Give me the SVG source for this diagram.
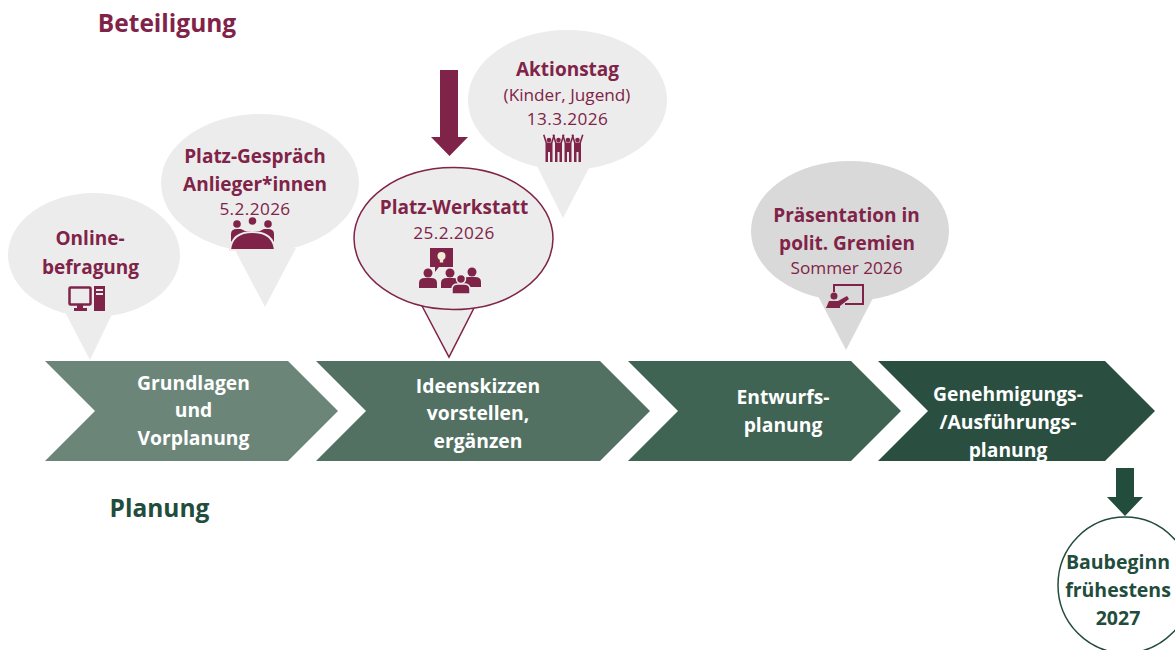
<svg xmlns="http://www.w3.org/2000/svg" width="1175" height="650" viewBox="0 0 1175 650">
<style>
text{font-family:"Open Sans","Noto Sans","Liberation Sans",sans-serif;text-anchor:middle}
.h{font-weight:700;font-size:19px;fill:#7f2348}
.s{font-size:17.200px;fill:#7f2348}
.d{letter-spacing:.4px}
.c{font-weight:700;font-size:19.300px;fill:#fff}
.g{font-weight:700;font-size:19.500px;fill:#224c3b}
.t{font-weight:700;font-size:24.500px}
.b{fill:#ececec}
.i{fill:#7f2348}
</style>
<defs>
<g id="person"><circle cx="0" cy="-9" r="4.500"/><path d="M-9,6V1Q-9,-4 -3,-4H3Q9,-4 9,1V6Z"/></g>
<g id="fig"><circle cx="0" cy="-11" r="2.300"/><path d="M-6,-16L-3.500,-8V0L-3.500,11H-1V1H1V11H3.500V0L3.500,-8L6,-16L4.500,-16.500L2,-8.500H-2L-4.500,-16.500Z"/></g>
</defs>

<text class="t" x="167" y="32" fill="#7f2348">Beteiligung</text>
<text class="t" x="159.500" y="517" fill="#224c3b">Planung</text>

<g id="connectors">
<path class="i" d="M440,70H458V137H468L449.500,156L431,137H440Z"/>
<path fill="#224c3b" d="M1116,468H1134V497H1143L1125,516L1107,497H1116Z"/>
</g>

<g id="chevron-1"><path fill="#6b8679" d="M45,361H288L338,411L288,461H45L95,411Z"/>
<text class="c" x="193.500" y="390">Grundlagen</text><text class="c" x="193.500" y="417">und</text><text class="c" x="193.500" y="445">Vorplanung</text></g>
<g id="chevron-2"><path fill="#527163" d="M316,361H600L650,411L600,461H316L366,411Z"/>
<text class="c" x="478" y="393">Ideenskizzen</text><text class="c" x="478" y="420">vorstellen,</text><text class="c" x="478" y="448">ergänzen</text></g>
<g id="chevron-3"><path fill="#3f6454" d="M628,361H851L901,411L851,461H628L678,411Z"/>
<text class="c" x="783" y="404">Entwurfs-</text><text class="c" x="783" y="432">planung</text></g>
<g id="chevron-4"><path fill="#2a4f40" d="M878,361H1105L1155,411L1105,461H878L928,411Z"/>
<text class="c" x="1008" y="401">Genehmigungs-</text><text class="c" x="1008" y="429">/Ausführungs-</text><text class="c" x="1008" y="457">planung</text></g>

<g id="bubble-online">
<ellipse class="b" cx="94" cy="255" rx="86" ry="62"/><path class="b" d="M65,312L90,360L113,312Z"/>
<text class="h" x="90" y="245">Online-</text><text class="h" x="90.500" y="274">befragung</text>
<rect x="69.500" y="287.500" width="21" height="17" rx="1" fill="none" stroke="#7f2348" stroke-width="2.500"/>
<path class="i" d="M77,304H83V308H87V311H74V308H77ZM94,286H105V311H94ZM96,289V291H103V289ZM96,293V295H103V293Z"/>
</g>

<g id="bubble-gespraech">
<ellipse class="b" cx="260" cy="183" rx="99" ry="69"/><path class="b" d="M235,250L265,307L296,248Z"/>
<text class="h" x="255" y="163">Platz-Gespräch</text><text class="h" x="255" y="191">Anlieger*innen</text>
<text class="s d" x="255" y="215">5.2.2026</text>
<g class="i"><circle cx="237" cy="224" r="3.800"/><circle cx="252.500" cy="221" r="3.800"/><circle cx="268" cy="224" r="3.800"/>
<path d="M231,243V234Q231,229 237,229H241L245,231H260L264,229H268Q274,229 274,234V243Z"/>
<path stroke="#ececec" stroke-width="2" d="M230,250Q232,232 252.500,232Q273,232 275,250Z"/></g>
</g>

<g id="bubble-aktionstag">
<ellipse class="b" cx="567.500" cy="100" rx="99.500" ry="70"/><path class="b" d="M536,164L563,218L590,166Z"/>
<text class="h" x="567.500" y="76">Aktionstag</text>
<text class="s" x="567" y="101">(Kinder, Jugend)</text><text class="s d" x="567.500" y="125">13.3.2026</text>
<g class="i"><use href="#fig" x="549" y="151"/><use href="#fig" x="558.500" y="151"/><use href="#fig" x="568" y="151"/><use href="#fig" x="577.500" y="151"/></g>
</g>

<g id="bubble-werkstatt">
<path class="b" stroke="#7f2348" stroke-width="1.500" d="M421,304L449,357L476,304Z"/>
<ellipse class="b" stroke="#7f2348" stroke-width="1.500" cx="453.500" cy="238.500" rx="99.500" ry="71"/>
<text class="h" x="454" y="214">Platz-Werkstatt</text><text class="s d" x="454" y="239">25.2.2026</text>
<path class="i" d="M430,248H453V267H439L435,272V267H430Z"/>
<circle cx="441.500" cy="256" r="4" fill="#f3ecd6"/><rect x="439.800" y="259" width="3.400" height="3.500" fill="#f3ecd6"/>
<g class="i"><use href="#person" x="428" y="282"/><use href="#person" x="450" y="282"/><use href="#person" x="472" y="281"/><use href="#person" x="461" y="288" stroke="#ececec" stroke-width="1.500"/></g>
</g>

<g id="bubble-praesentation">
<ellipse fill="#d9d9d9" cx="850" cy="231" rx="99" ry="70"/><path fill="#d9d9d9" d="M818,296L846,350L873,298Z"/>
<text class="h" x="846.500" y="222">Präsentation in</text><text class="h" x="847" y="250">polit. Gremien</text>
<text class="s" x="846.500" y="274">Sommer 2026</text>
<path fill="none" stroke="#7f2348" stroke-width="2" d="M834,292V285H863V304H845"/>
<circle class="i" cx="834" cy="296" r="3.500"/>
<path class="i" d="M826,308L829,301H838L847,296L849,299L840,306V308Z"/>
</g>

<g id="node-baubeginn">
<ellipse cx="1125" cy="585" rx="67" ry="68" fill="#fff" stroke="#224c3b" stroke-width="1.500"/>
<text class="g" x="1118" y="569">Baubeginn</text><text class="g" x="1118" y="597">frühestens</text><text class="g" x="1118" y="625">2027</text>
</g>
</svg>
